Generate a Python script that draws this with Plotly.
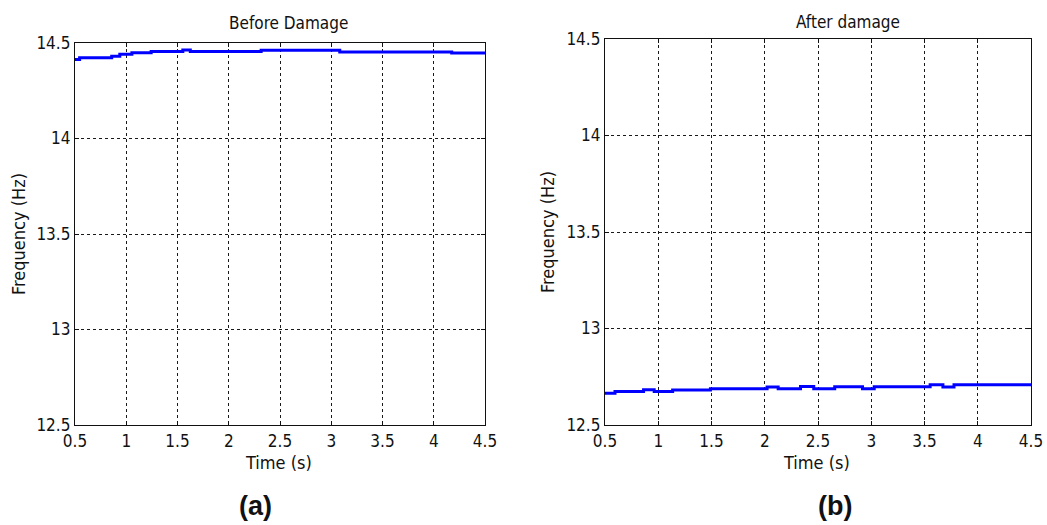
import plotly.graph_objects as go

# Identified natural frequency over time (step-wise estimates)
time_before = [0.5, 0.545, 0.858, 0.937, 1.055, 1.243, 1.552, 1.625, 2.316, 3.083, 4.175, 4.5]
freq_before = [14.413, 14.423, 14.431, 14.441, 14.449, 14.455, 14.464, 14.455, 14.462, 14.453, 14.448, 14.448]

time_after = [0.5, 0.594, 0.862, 0.962, 1.135, 1.49, 2.022, 2.126, 2.336, 2.46, 2.657,
              2.918, 3.028, 3.553, 3.673, 3.777, 4.5]
freq_after = [12.664, 12.673, 12.683, 12.673, 12.681, 12.688, 12.697, 12.688, 12.700, 12.688,
              12.698, 12.688, 12.698, 12.709, 12.697, 12.709, 12.709]

x_ticks = [0.5, 1, 1.5, 2, 2.5, 3, 3.5, 4, 4.5]
y_ticks = [12.5, 13, 13.5, 14, 14.5]

W, H = 1047, 525
FONT = "DejaVu Sans Condensed, Liberation Sans Narrow, Arial, sans-serif"
TXT = "#111111"


def px(x):
    return x / W


def py(y):
    return 1 - y / H


fig = go.Figure()
fig.add_trace(go.Scatter(x=time_before, y=freq_before, mode="lines", line_shape="hv",
                         line=dict(color="#0000ff", width=3), xaxis="x", yaxis="y",
                         showlegend=False))
fig.add_trace(go.Scatter(x=time_after, y=freq_after, mode="lines", line_shape="hv",
                         line=dict(color="#0000ff", width=3), xaxis="x2", yaxis="y2",
                         showlegend=False))

axis_common = dict(
    showgrid=True, gridcolor="#1a1a1a", gridwidth=1, griddash="3px,3px",
    showline=True, mirror="ticks", linecolor="#111111", linewidth=1.3,
    ticks="inside", ticklen=4, tickcolor="#111111", zeroline=False,
    automargin=False,
    tickfont=dict(family=FONT, size=17, color=TXT),
)

fig.update_layout(
    width=W, height=H,
    margin=dict(l=0, r=0, t=0, b=0),
    paper_bgcolor="white", plot_bgcolor="white",
    xaxis=dict(domain=[px(75), px(485)], range=[0.5, 4.5], tickvals=x_ticks,
               anchor="y", **axis_common),
    yaxis=dict(domain=[py(425), py(43)], range=[12.5, 14.5], tickvals=y_ticks,
               anchor="x", **axis_common),
    xaxis2=dict(domain=[px(605), px(1031)], range=[0.5, 4.5], tickvals=x_ticks,
                anchor="y2", **axis_common),
    yaxis2=dict(domain=[py(425), py(39)], range=[12.5, 14.5], tickvals=y_ticks,
                anchor="x2", **axis_common),
)

title_font = dict(family=FONT, size=17, color=TXT)
label_font = dict(family=FONT, size=18, color=TXT)
annotations = [
    dict(text="Before Damage", x=px(288), y=py(23), font=title_font),
    dict(text="After damage", x=px(848), y=py(22), font=title_font),
    dict(text="Time (s)", x=px(278), y=py(462), font=label_font),
    dict(text="Time (s)", x=px(816), y=py(462), font=label_font),
    dict(text="Frequency (Hz)", x=px(18), y=py(234), textangle=-90, font=label_font),
    dict(text="Frequency (Hz)", x=px(547), y=py(232), textangle=-90, font=label_font),
]
for a in annotations:
    fig.add_annotation(xref="paper", yref="paper", xanchor="center", yanchor="middle",
                       showarrow=False, **a)

panel_font = dict(family="Liberation Sans, Arial, sans-serif", size=27, color=TXT)
for text, x in [("<b>(a)</b>", 255), ("<b>(b)</b>", 835)]:
    fig.add_annotation(text=text, x=px(x), y=py(506), xref="paper", yref="paper",
                       xanchor="center", yanchor="middle", showarrow=False, font=panel_font)

fig.write_html("out.html")
